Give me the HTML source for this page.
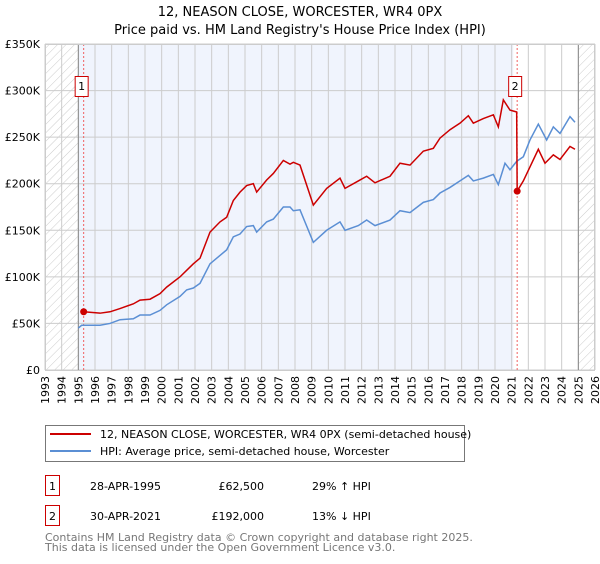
<!DOCTYPE html>
<html><head><meta charset="utf-8"><style>
body{margin:0;background:#fff;font-family:"DejaVu Sans","Liberation Sans",sans-serif;}
svg text{font-family:"DejaVu Sans","Liberation Sans",sans-serif;}
</style></head><body>
<svg id="c" width="600" height="560" xmlns="http://www.w3.org/2000/svg">
<defs><pattern id="hatch" width="6" height="6" patternUnits="userSpaceOnUse" patternTransform="rotate(45)"><line x1="0" y1="0" x2="0" y2="6" stroke="#ccc" stroke-width="1"/></pattern></defs>
<text x="300" y="16" text-anchor="middle" font-size="13">12, NEASON CLOSE, WORCESTER, WR4 0PX</text>
<text x="300" y="34" text-anchor="middle" font-size="13">Price paid vs. HM Land Registry's House Price Index (HPI)</text>
<g id="plot"></g>
<g>
<rect x="45.5" y="425.5" width="419" height="36" fill="#fff" stroke="#777"/>
<line x1="50" y1="434" x2="91" y2="434" stroke="#cc0000" stroke-width="2"/>
<text x="100" y="438" font-size="11">12, NEASON CLOSE, WORCESTER, WR4 0PX (semi-detached house)</text>
<line x1="50" y1="451" x2="91" y2="451" stroke="#5b8fd4" stroke-width="2"/>
<text x="100" y="455" font-size="11">HPI: Average price, semi-detached house, Worcester</text>
</g>
<g>
<rect x="45.5" y="475.5" width="14" height="20" fill="none" stroke="#cc0000"/>
<text x="52.5" y="490" text-anchor="middle" font-size="11">1</text>
<text x="90" y="490" font-size="11">28-APR-1995</text>
<text x="264" y="490" text-anchor="end" font-size="11">£62,500</text>
<text x="312" y="490" font-size="11">29% ↑ HPI</text>
<rect x="45.5" y="505.5" width="14" height="20" fill="none" stroke="#cc0000"/>
<text x="52.5" y="520" text-anchor="middle" font-size="11">2</text>
<text x="90" y="520" font-size="11">30-APR-2021</text>
<text x="264" y="520" text-anchor="end" font-size="11">£192,000</text>
<text x="312" y="520" font-size="11">13% ↓ HPI</text>
</g>
<text x="45" y="541" font-size="11" fill="#777">Contains HM Land Registry data © Crown copyright and database right 2025.</text>
<text x="45" y="551" font-size="11" fill="#777">This data is licensed under the Open Government Licence v3.0.</text>
</svg>
<script>
const hpiYears=[1995.0,1995.2,1996.3,1996.9,1997.5,1998.3,1998.7,1999.3,1999.9,2000.3,2001.1,2001.5,2001.9,2002.3,2002.9,2003.5,2003.9,2004.3,2004.7,2005.1,2005.5,2005.7,2006.3,2006.7,2007.3,2007.7,2007.9,2008.3,2009.1,2009.9,2010.7,2011.0,2011.8,2012.3,2012.8,2013.7,2014.3,2014.9,2015.7,2016.3,2016.7,2017.3,2017.9,2018.4,2018.7,2019.3,2019.9,2020.2,2020.6,2020.9,2021.3,2021.7,2022.1,2022.6,2023.1,2023.5,2023.9,2024.5,2024.8];
const hpiValues=[45,48,48,50,54,55,59,59,64,70,79,86,88,93,114,123,129,143,146,154,155,148,159,162,175,175,171,172,137,150,159,150,155,161,155,161,171,169,180,183,190,196,203,209,203,206,210,199,222,215,224,229,247,264,247,261,254,272,266];
const priceYears=[1995.32,1996.3,1996.9,1997.5,1998.3,1998.7,1999.3,1999.9,2000.3,2001.1,2001.5,2001.9,2002.3,2002.9,2003.5,2003.9,2004.3,2004.7,2005.1,2005.5,2005.7,2006.3,2006.7,2007.3,2007.7,2007.9,2008.3,2009.1,2009.9,2010.7,2011.0,2011.8,2012.3,2012.8,2013.7,2014.3,2014.9,2015.7,2016.3,2016.7,2017.3,2017.9,2018.4,2018.7,2019.3,2019.9,2020.2,2020.5,2020.9,2021.3,2021.33,2021.7,2022.6,2023.0,2023.5,2023.9,2024.5,2024.8];
const priceValues=[62.5,61,62.5,66,71,75,76,82,89,100,107,114,120,148,159,164,182,191,198,200,191,204,211,225,221,223,220,177,195,206,195,203,208,201,208,222,220,235,238,249,258,265,273,265,270,274,261,290,279,277,192,203,237,222,231,226,240,237];
const saleYears=[1995.32,2021.33];
const saleValues=[62.5,192];
const yTicks=[0,50,100,150,200,250,300,350];
const yTickLabels=["£0","£50K","£100K","£150K","£200K","£250K","£300K","£350K"];
const xTickYears=[];for(let y=1993;y<=2026;y++)xTickYears.push(y);

const X0=45,X1=595,Y0=370,Y1=44,YMIN=1993,YMAX=2026,VMAX=350;
const sx=y=>X0+(y-YMIN)/(YMAX-YMIN)*(X1-X0);
const sy=v=>Y0-v/VMAX*(Y0-Y1);
const NS="http://www.w3.org/2000/svg";
const g=document.getElementById('plot');
function mk(t,a){const e=document.createElementNS(NS,t);for(const k in a)e.setAttribute(k,a[k]);g.appendChild(e);return e;}
let e;
e=mk('rect',{x:sx(1995),y:Y1,width:sx(2021.1)-sx(1995),height:Y0-Y1,fill:'#f0f4fd'});


e=mk('rect',{x:X0,y:Y1,width:sx(1995)-X0,height:Y0-Y1,fill:'url(#hatch)'});


e=mk('rect',{x:sx(2025),y:Y1,width:X1-sx(2025),height:Y0-Y1,fill:'url(#hatch)'});


xTickYears.forEach(y=>{
 e=mk('line',{x1:sx(y),x2:sx(y),y1:Y1,y2:Y0,stroke:'#ccc','stroke-width':1});
 
 
 e=mk('text',{x:0,y:0,'font-size':11,'text-anchor':'end',transform:`translate(${sx(y)+4},${Y0+6}) rotate(-90)`});
 e.textContent=y;
 
 
});
yTicks.forEach((v,i)=>{
 e=mk('line',{x1:X0,x2:X1,y1:sy(v),y2:sy(v),stroke:'#ccc','stroke-width':1});
 
 
 e=mk('text',{x:40,y:sy(v)+4,'font-size':11,'text-anchor':'end'});
 e.textContent=yTickLabels[i];
 
 
});
[1995,2025].forEach(y=>{
 e=mk('line',{x1:sx(y),x2:sx(y),y1:Y1,y2:Y0,stroke:'#888','stroke-width':1});
 
 
});
saleYears.forEach(y=>{
 e=mk('line',{x1:sx(y),x2:sx(y),y1:Y1,y2:Y0,stroke:'#f06060','stroke-width':1,'stroke-dasharray':'2,2'});
 
 
});
e=mk('polyline',{points:hpiYears.map((y,i)=>sx(y)+','+sy(hpiValues[i])).join(' '),fill:'none',stroke:'#5b8fd4','stroke-width':1.5});


e=mk('polyline',{points:priceYears.map((y,i)=>sx(y)+','+sy(priceValues[i])).join(' '),fill:'none',stroke:'#cc0000','stroke-width':1.5});


saleYears.forEach((y,i)=>{
 e=mk('circle',{cx:sx(y),cy:sy(saleValues[i]),r:3.5,fill:'#cc0000'});
 
 
 const bx=sx(y)-9;
 e=mk('rect',{x:bx+0.5,y:76.5,width:13,height:20,fill:'#fff',stroke:'#cc0000'});
 
 
 e=mk('text',{x:bx+7,y:90,'font-size':11,'text-anchor':'middle'});
 e.textContent=String(i+1);
 
 
});
e=mk('rect',{x:X0+0.5,y:Y1+0.5,width:X1-X0-1,height:Y0-Y1,fill:'none',stroke:'#ccc'});


</script>
</body></html>
